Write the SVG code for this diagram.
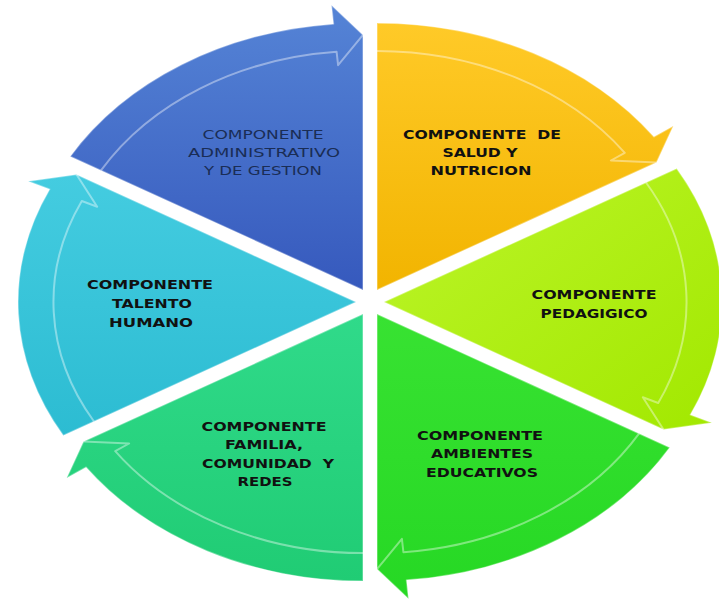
<svg xmlns="http://www.w3.org/2000/svg" width="719" height="600" viewBox="0 0 719 600">
<style>
.w{stroke:#ffffff;stroke-opacity:0.35;stroke-width:1.5;stroke-linejoin:round}
.hl{fill:none;stroke:#ffffff;stroke-opacity:0.4;stroke-width:2;stroke-linejoin:round}
.t{font-family:"DejaVu Sans","Liberation Sans",sans-serif;font-size:13px;font-weight:bold;fill:#111111;text-anchor:middle;white-space:pre}
.tb{font-family:"DejaVu Sans","Liberation Sans",sans-serif;font-size:13px;font-weight:normal;fill:#1a2d55;text-anchor:middle}
</style>
<defs>
<linearGradient id="gBlue" x1="0" y1="0" x2="0" y2="1"><stop offset="0" stop-color="#5584d6"/><stop offset="1" stop-color="#3659bd"/></linearGradient>
<linearGradient id="gYel" x1="0" y1="0" x2="0" y2="1"><stop offset="0" stop-color="#ffca28"/><stop offset="1" stop-color="#f2b400"/></linearGradient>
<linearGradient id="gPed" x1="0" y1="0" x2="1" y2="1"><stop offset="0" stop-color="#bdf52a"/><stop offset="1" stop-color="#a2e800"/></linearGradient>
<linearGradient id="gAmb" x1="0" y1="0" x2="0" y2="1"><stop offset="0" stop-color="#38e232"/><stop offset="1" stop-color="#26d824"/></linearGradient>
<linearGradient id="gFam" x1="0" y1="0" x2="0" y2="1"><stop offset="0" stop-color="#30da8a"/><stop offset="1" stop-color="#20cc74"/></linearGradient>
<linearGradient id="gTeal" x1="0" y1="0" x2="0" y2="1"><stop offset="0" stop-color="#44cce0"/><stop offset="1" stop-color="#2cbcd2"/></linearGradient>
</defs>

<g id="connectors"></g>

<g id="node-administrativo">
<path class="w" fill="url(#gBlue)" d="M363,289.9 L70.3,156.4 A338,267 0 0 1 333.5,23.9 L331.5,5.3 L363,34.9 Z"/>
<path class="hl" d="M101,170.4 A302.5,239 0 0 1 336.6,51.8 L338.1,65.2 L363,34.9"/>
<text class="tb" x="263" y="139" textLength="121" lengthAdjust="spacingAndGlyphs">COMPONENTE</text>
<text class="tb" x="264" y="157" textLength="152" lengthAdjust="spacingAndGlyphs">ADMINISTRATIVO</text>
<text class="tb" x="263" y="175" textLength="118" lengthAdjust="spacingAndGlyphs">Y DE GESTION</text>
</g>

<g id="node-salud">
<path class="w" fill="url(#gYel)" d="M377,289.9 L377,22.9 A338,267 0 0 1 653.9,136.8 L673.3,126 L656.5,162.4 Z"/>
<path class="hl" d="M377,50.9 A302.5,239 0 0 1 624.8,152.8 L610.9,160.5 L656.5,162.4"/>
<text class="t" x="482" y="139" textLength="158" lengthAdjust="spacingAndGlyphs" xml:space="preserve">COMPONENTE  DE</text>
<text class="t" x="480" y="157" textLength="75" lengthAdjust="spacingAndGlyphs">SALUD Y</text>
<text class="t" x="481" y="175" textLength="101" lengthAdjust="spacingAndGlyphs">NUTRICION</text>
</g>

<g id="node-pedagogico">
<path class="w" fill="url(#gPed)" d="M384,302 L676.7,168.5 A338,267 0 0 1 690.3,414.8 L711.8,422.7 L663.5,429.5 Z"/>
<path class="hl" d="M646,182.5 A302.5,239 0 0 1 658.2,403 L642.8,397.3 L663.5,429.5"/>
<text class="t" x="594" y="299" textLength="125" lengthAdjust="spacingAndGlyphs">COMPONENTE</text>
<text class="t" x="594" y="318" textLength="107" lengthAdjust="spacingAndGlyphs">PEDAGIGICO</text>
</g>

<g id="node-ambientes">
<path class="w" fill="url(#gAmb)" d="M377,314.1 L669.7,447.6 A338,267 0 0 1 406.5,580.1 L408.5,598.7 L377,569.1 Z"/>
<path class="hl" d="M639,433.6 A302.5,239 0 0 1 403.4,552.2 L401.9,538.8 L377,569.1"/>
<text class="t" x="480" y="440" textLength="126" lengthAdjust="spacingAndGlyphs">COMPONENTE</text>
<text class="t" x="482" y="458" textLength="102" lengthAdjust="spacingAndGlyphs">AMBIENTES</text>
<text class="t" x="482" y="477" textLength="112" lengthAdjust="spacingAndGlyphs">EDUCATIVOS</text>
</g>

<g id="node-familia">
<path class="w" fill="url(#gFam)" d="M363,314.1 L363,581.1 A338,267 0 0 1 86.1,467.2 L66.7,478 L83.5,441.6 Z"/>
<path class="hl" d="M363,553.1 A302.5,239 0 0 1 115.2,451.2 L129.1,443.5 L83.5,441.6"/>
<text class="t" x="264" y="431" textLength="125" lengthAdjust="spacingAndGlyphs">COMPONENTE</text>
<text class="t" x="264" y="449" textLength="78" lengthAdjust="spacingAndGlyphs">FAMILIA,</text>
<text class="t" x="268" y="468" textLength="132" lengthAdjust="spacingAndGlyphs" xml:space="preserve">COMUNIDAD  Y</text>
<text class="t" x="265" y="486" textLength="55" lengthAdjust="spacingAndGlyphs">REDES</text>
</g>

<g id="node-talento">
<path class="w" fill="url(#gTeal)" d="M356,302 L63.3,435.5 A338,267 0 0 1 49.7,189.2 L28.2,181.3 L76.5,174.5 Z"/>
<path class="hl" d="M94,421.5 A302.5,239 0 0 1 81.8,201 L97.2,206.7 L76.5,174.5"/>
<text class="t" x="150" y="289" textLength="126" lengthAdjust="spacingAndGlyphs">COMPONENTE</text>
<text class="t" x="152" y="308" textLength="80" lengthAdjust="spacingAndGlyphs">TALENTO</text>
<text class="t" x="151" y="327" textLength="84" lengthAdjust="spacingAndGlyphs">HUMANO</text>
</g>
</svg>
